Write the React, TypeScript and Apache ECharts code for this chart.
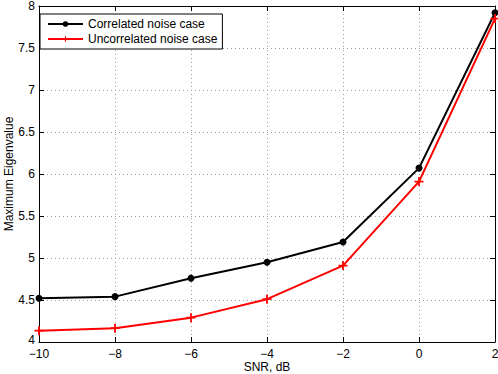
import React, { useEffect, useRef } from "react";
import * as echarts from "echarts";

const snr = [-10, -8, -6, -4, -2, 0, 2];
const correlated = [4.52, 4.54, 4.76, 4.95, 5.19, 6.07, 7.92];
const uncorrelated = [4.135, 4.165, 4.29, 4.51, 4.91, 5.91, 7.85];
const seriesNames = ["Correlated noise case", "Uncorrelated noise case"];

const FONT = "'Liberation Sans', Arial, Helvetica, sans-serif";
const plusPath = "path://M4,0 L6,0 L6,4 L10,4 L10,6 L6,6 L6,10 L4,10 L4,6 L0,6 L0,4 L4,4 Z";

export default function App() {
  const ref = useRef<HTMLDivElement>(null);
  useEffect(() => {
    if (!ref.current) return;
    const chart = echarts.init(ref.current, undefined, { renderer: "svg" });
    const fmt = (v: number) => String(v).replace("-", "\u2212");
    const yfmt = (v: number) => (v === 4 ? "{lo|4}" : String(v));
    const axisLine = { show: true, onZero: false, lineStyle: { color: "#000", width: 1 } };
    const splitLine = { show: true, lineStyle: { color: "#a0a0a0", type: [1, 3] as any, width: 1 } };
    const tick = { show: true, inside: true, length: 5, lineStyle: { color: "#000" } };
    chart.setOption({
      animation: false,
      backgroundColor: "#fff",
      textStyle: { fontFamily: FONT },
      grid: { left: 39, right: 3, top: 6, bottom: 32, containLabel: false, outerBoundsMode: "none" },
      legend: {
        left: 40,
        top: 14,
        orient: "vertical",
        backgroundColor: "#fff",
        borderColor: "#000",
        borderWidth: 1,
        borderRadius: 0,
        padding: [4, 5, 4, 7],
        itemGap: 3,
        itemWidth: 35,
        itemHeight: 7,
        textStyle: { fontFamily: FONT, fontSize: 12, color: "#000" },
        data: seriesNames,
      },
      xAxis: [
        {
          type: "value",
          min: -10,
          max: 2,
          interval: 2,
          name: "SNR, dB",
          nameLocation: "middle",
          nameGap: 19,
          nameMoveOverlap: false,
          nameTextStyle: { fontFamily: FONT, fontSize: 12, lineHeight: 12, color: "#000" },
          axisLine,
          axisTick: tick,
          axisLabel: { formatter: fmt, fontFamily: FONT, fontSize: 12, lineHeight: 10, color: "#000", margin: 7 },
          splitLine,
        },
        {
          type: "value",
          position: "top",
          min: -10,
          max: 2,
          interval: 2,
          axisLine,
          axisTick: tick,
          axisLabel: { show: false },
          splitLine: { show: false },
        },
      ],
      yAxis: [
        {
          type: "value",
          min: 4,
          max: 8,
          interval: 0.5,
          name: "Maximum Eigenvalue",
          nameLocation: "middle",
          nameGap: 24,
          nameMoveOverlap: false,
          nameTextStyle: { fontFamily: FONT, fontSize: 12, color: "#000" },
          axisLine,
          axisTick: tick,
          axisLabel: {
            formatter: yfmt,
            fontFamily: FONT,
            fontSize: 12,
            lineHeight: 10,
            color: "#000",
            margin: 4,
            rich: { lo: { fontFamily: FONT, fontSize: 12, color: "#000", lineHeight: 10, padding: [0, 0, 5, 0] } },
          },
          splitLine,
        },
        {
          type: "value",
          position: "right",
          min: 4,
          max: 8,
          interval: 0.5,
          axisLine,
          axisTick: tick,
          axisLabel: { show: false },
          splitLine: { show: false },
        },
      ],
      series: [
        {
          name: seriesNames[0],
          type: "line",
          data: snr.map((x, i) => [x, correlated[i]]),
          color: "#000",
          lineStyle: { color: "#000", width: 2 },
          symbol: "circle",
          symbolSize: 7,
          itemStyle: { color: "#000" },
          showSymbol: true,
        },
        {
          name: seriesNames[1],
          type: "line",
          data: snr.map((x, i) => [x, uncorrelated[i]]),
          color: "#f00",
          lineStyle: { color: "#f00", width: 2 },
          symbol: plusPath,
          symbolSize: 9,
          itemStyle: { color: "#f00" },
          showSymbol: true,
        },
      ],
    });
    return () => chart.dispose();
  }, []);
  return <div ref={ref} style={{ width: 498, height: 374, position: "absolute", left: 0, top: 0 }} />;
}
